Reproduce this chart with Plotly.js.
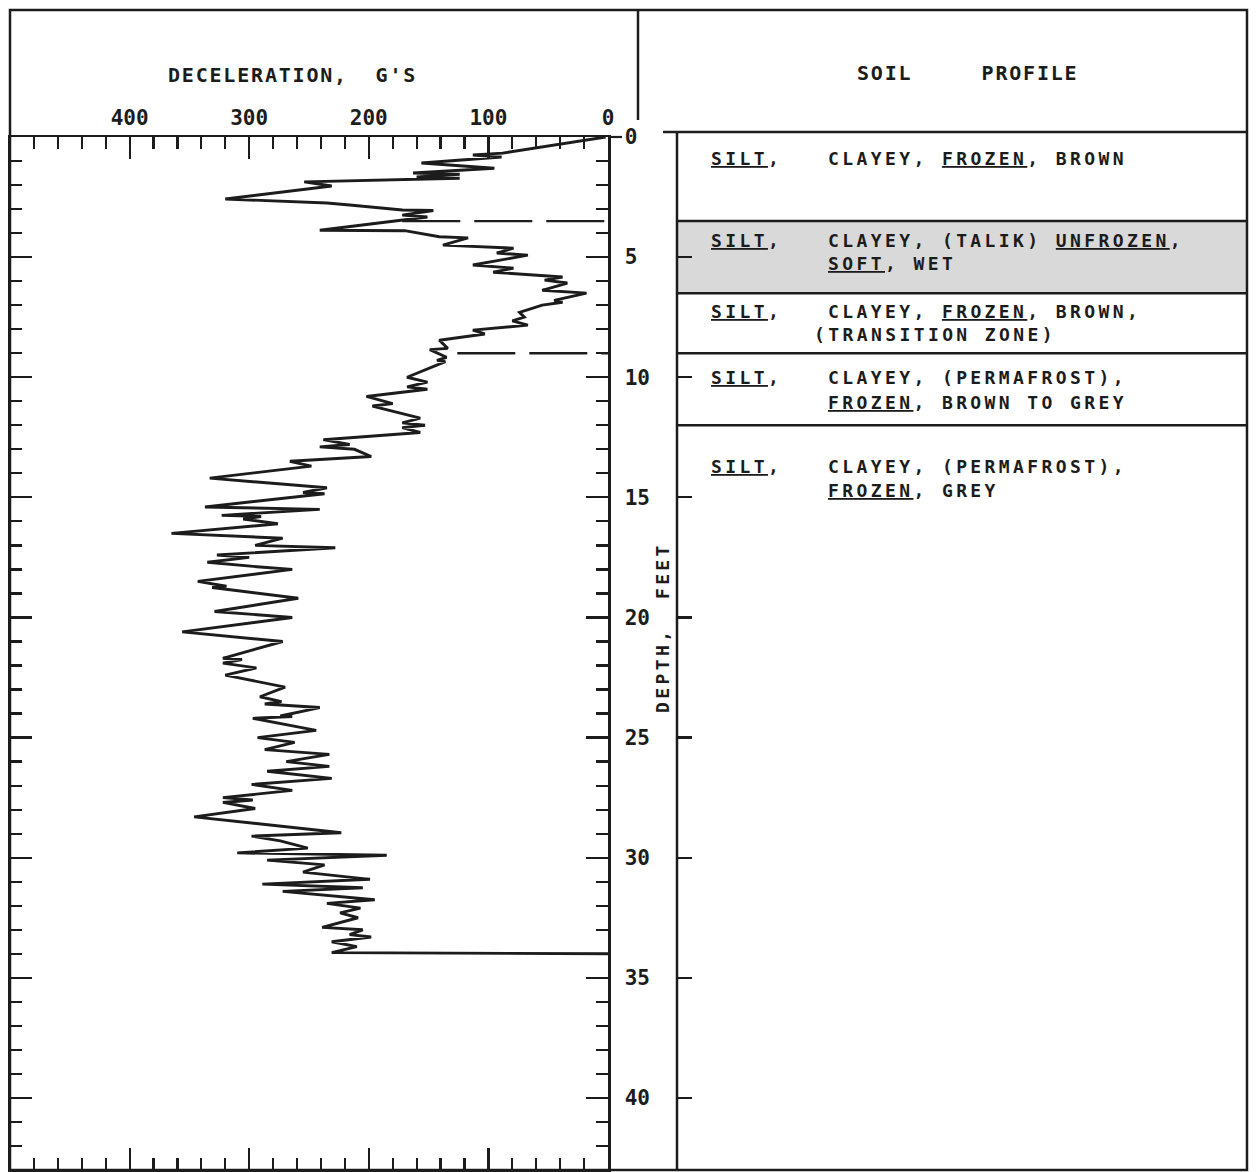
<!DOCTYPE html>
<html><head><meta charset="utf-8">
<script src="https://cdn.plot.ly/plotly-3.0.1.min.js"></script>
<style>html,body{margin:0;padding:0;background:#fff}</style>
</head><body><div id="chart" style="width:1259px;height:1172px"></div>
<script>
// ---------- data ----------
const depthFt = [0.0,0.67,0.75,0.83,1.08,1.3,1.5,1.55,1.66,1.72,1.87,2.04,2.58,2.75,2.83,3.04,3.06,3.25,3.33,3.46,3.88,3.9,4.15,4.2,4.5,4.63,4.83,4.92,5.33,5.46,5.63,5.83,5.96,6.08,6.38,6.5,6.8,6.88,7.0,7.3,7.5,7.65,7.83,8.04,8.2,8.46,8.8,8.85,9.17,9.3,9.35,10.0,10.2,10.4,10.5,10.8,11.1,11.2,11.7,11.9,12.0,12.1,12.3,12.6,12.8,12.9,13.0,13.3,13.5,13.7,14.2,14.6,14.8,14.85,15.4,15.5,15.75,15.8,15.9,16.1,16.5,16.7,17.0,17.1,17.4,17.5,17.7,17.9,18.0,18.5,18.7,18.75,19.2,19.75,20.0,20.6,21.0,21.7,21.75,21.9,22.1,22.4,22.9,23.3,23.5,23.6,23.75,24.1,24.12,24.2,24.7,25.0,25.2,25.5,25.7,26.0,26.2,26.4,26.7,26.95,27.2,27.5,27.6,27.7,27.95,28.3,28.96,29.1,29.3,29.6,29.8,29.9,30.1,30.3,30.6,30.9,31.1,31.25,31.4,31.75,31.9,32.1,32.3,32.5,32.9,33.0,33.2,33.3,33.5,33.7,33.95,34.0];
const decelG = [2,88,113,89,156,95,163,124,160,124,254,231,320,235,216,172,146,172,151,172,241,170,141,117,138,79,93,67,113,79,96,38,53,34,55,18,45,38,55,74,70,80,67,113,103,141,134,149,135,143,136,168,151,168,151,202,180,197,157,172,153,172,157,238,216,241,212,198,266,248,333,235,255,237,337,241,323,290,305,276,365,272,295,228,327,300,335,291,264,343,319,331,259,329,264,356,272,322,306,322,294,320,270,291,273,287,241,274,264,297,244,293,262,287,233,269,233,285,231,298,264,322,297,322,295,346,223,298,274,251,310,185,285,237,255,199,289,205,272,195,235,207,224,209,239,205,216,198,231,210,231,0];

const decelTickVals = [0, 100, 200, 300, 400];
const decelTickText = ['0', '100', '200', '300', '400'];
const depthTickVals = [0, 5, 10, 15, 20, 25, 30, 35, 40];
const depthTickText = ['0', '5', '10', '15', '20', '25', '30', '35', '40'];

const layerTops    = [0, 3.5, 6.5, 9.0, 12.0];
const layerBottoms = [3.5, 6.5, 9.0, 12.0, 43];
const layerNames   = ['SILT', 'SILT', 'SILT', 'SILT', 'SILT'];
const layerLines = [
  ['CLAYEY, <u>FROZEN</u>, BROWN'],
  ['CLAYEY, (TALIK) <u>UNFROZEN</u>,', '<u>SOFT</u>, WET'],
  ['CLAYEY, <u>FROZEN</u>, BROWN,', '(TRANSITION ZONE)'],
  ['CLAYEY, (PERMAFROST),', '<u>FROZEN</u>, BROWN TO GREY'],
  ['CLAYEY, (PERMAFROST),', '<u>FROZEN</u>, GREY']
];
const unfrozenLayer = 1;
const boundaryDepths = [3.5, 9.0];
const boundaryStartG = [172, 126];

const xTitle = "DECELERATION,\u00a0\u00a0G'S";
const yTitle = 'DEPTH,\u00a0\u00a0FEET';
const panelTitle = 'SOIL\u00a0\u00a0\u00a0\u00a0\u00a0PROFILE';

// ---------- layout helpers (pixels -> paper) ----------
const L = 10, R = 1247, T = 137, B = 1170;
const px = v => (v - L) / (R - L);
const py = v => (B - v) / (B - T);
const INK = '#1c1c1c';
const MONO = 'DejaVu Sans Mono';
const sp = (t, s) => `<span style="letter-spacing:${s}px">${t}</span>`;

const traces = [
  {x: decelG, y: depthFt, xaxis: 'x', yaxis: 'y', mode: 'lines',
   line: {color: INK, width: 2.9}, hoverinfo: 'skip', showlegend: false}
];
boundaryDepths.forEach((d, i) => {
  traces.push({x: [boundaryStartG[i], 0], y: [d, d], xaxis: 'x', yaxis: 'y', mode: 'lines',
    line: {color: INK, width: 2.4, dash: '58px,14px'}, hoverinfo: 'skip', showlegend: false});
});
traces.push({x: [0.5], y: [20], xaxis: 'x2', yaxis: 'y2', mode: 'markers',
  marker: {opacity: 0}, hoverinfo: 'skip', showlegend: false});

const shapes = [
  {type: 'rect', xref: 'paper', yref: 'paper', x0: px(10), x1: px(1247), y0: py(1170), y1: py(10),
   line: {color: INK, width: 2.5}},
  {type: 'line', xref: 'paper', yref: 'paper', x0: px(638), x1: px(638), y0: py(10), y1: py(120),
   line: {color: INK, width: 2.5}},
  {type: 'line', xref: 'paper', yref: 'paper', x0: px(663), x1: px(1247), y0: py(132), y1: py(132),
   line: {color: INK, width: 2.5}},
  {type: 'line', xref: 'paper', yref: 'paper', x0: px(608), x1: px(622), y0: py(137), y1: py(137),
   line: {color: INK, width: 2.2}}
];
shapes.push({type: 'rect', xref: 'x2 domain', yref: 'y2', x0: 0, x1: 1,
  y0: layerTops[unfrozenLayer], y1: layerBottoms[unfrozenLayer],
  fillcolor: '#d9d9d9', line: {width: 0}, layer: 'below'});
layerTops.slice(1).forEach(d => {
  shapes.push({type: 'line', xref: 'x2 domain', yref: 'y2', x0: 0, x1: 1, y0: d, y1: d,
    line: {color: INK, width: 2.5}});
});
shapes.push({type: 'line', xref: 'paper', yref: 'paper', x0: px(677), x1: px(677), y0: py(132), y1: py(1170),
  line: {color: INK, width: 2.5}});

const rowPx = [[158], [240, 263], [311, 334], [378, 402], [466, 490]];
const annFont = {family: MONO, size: 18, color: INK, weight: 'bold'};
const annotations = [
  {xref: 'paper', yref: 'paper', x: px(292), y: py(75), text: sp(xTitle, 1.8), showarrow: false,
   xanchor: 'center', yanchor: 'middle', font: {family: MONO, size: 20, color: INK, weight: 'bold'}},
  {xref: 'paper', yref: 'paper', x: px(967), y: py(73), text: sp(panelTitle, 1.8), showarrow: false,
   xanchor: 'center', yanchor: 'middle', font: {family: MONO, size: 20, color: INK, weight: 'bold'}},
  {xref: 'paper', yref: 'paper', x: px(662), y: py(628), text: sp(yTitle, 3.4), showarrow: false,
   textangle: -90, xanchor: 'center', yanchor: 'middle', font: annFont}
];
layerLines.forEach((lines, i) => {
  annotations.push({xref: 'paper', yref: 'paper', x: px(709), y: py(rowPx[i][0]),
    text: sp('<u>' + layerNames[i] + '</u>,', 3.4), showarrow: false,
    xanchor: 'left', yanchor: 'middle', font: annFont});
  lines.forEach((t, j) => {
    const startX = t.charAt(0) === '(' && j > 0 ? 812 : 826;
    annotations.push({xref: 'paper', yref: 'paper', x: px(startX), y: py(rowPx[i][j]),
      text: sp(t, 3.4), showarrow: false, xanchor: 'left', yanchor: 'middle', font: annFont});
  });
});

const tickFont = {family: MONO, size: 21, color: INK, weight: 'bold'};
const layout = {
  width: 1259, height: 1172,
  margin: {l: L, r: 1259 - R, t: T, b: 1172 - B, pad: 0},
  paper_bgcolor: '#ffffff', plot_bgcolor: '#ffffff',
  showlegend: false,
  xaxis: {domain: [0, px(608)], range: [500, 0], side: 'top', anchor: 'y',
    tickmode: 'array', tickvals: decelTickVals, ticktext: decelTickText,
    ticks: 'inside', ticklen: 22, tickwidth: 2.2, tickcolor: INK,
    minor: {tickmode: 'linear', tick0: 0, dtick: 20, ticks: 'inside', ticklen: 12, tickwidth: 2.2, tickcolor: INK},
    showline: true, linecolor: INK, linewidth: 2.5, mirror: 'ticks',
    showgrid: false, zeroline: false, tickfont: tickFont, ticklabelstandoff: 1, fixedrange: true},
  yaxis: {domain: [0, 1], range: [43, 0], side: 'right', anchor: 'x',
    tickmode: 'array', tickvals: depthTickVals, ticktext: depthTickText,
    ticks: 'inside', ticklen: 22, tickwidth: 2.2, tickcolor: INK,
    minor: {tickmode: 'linear', tick0: 0, dtick: 1, ticks: 'inside', ticklen: 12, tickwidth: 2.2, tickcolor: INK},
    showline: true, linecolor: INK, linewidth: 2.5, mirror: 'ticks',
    showgrid: false, zeroline: false, tickfont: tickFont, ticklabelstandoff: 10, fixedrange: true},
  xaxis2: {domain: [px(677), 1], range: [0, 1], anchor: 'y2', visible: false, fixedrange: true},
  yaxis2: {domain: [0, 1], range: [43, 0], anchor: 'x2', side: 'left',
    tickmode: 'array', tickvals: depthTickVals.filter(v => v > 0),
    ticks: 'inside', ticklen: 15, tickwidth: 2.2, tickcolor: INK, showticklabels: false,
    showline: false,
    showgrid: false, zeroline: false, fixedrange: true},
  shapes: shapes,
  annotations: annotations
};

Plotly.newPlot('chart', traces, layout, {displayModeBar: false, staticPlot: true});
</script>
</body></html>
